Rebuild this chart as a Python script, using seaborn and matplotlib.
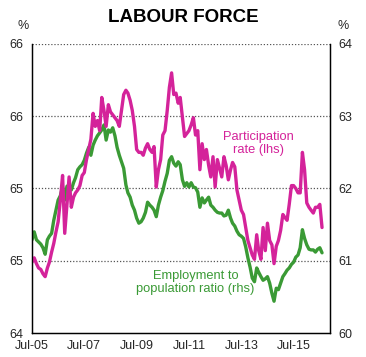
import numpy as np
import pandas as pd
import matplotlib
matplotlib.use("Agg")
import matplotlib.pyplot as plt
import matplotlib.dates as mdates
from matplotlib.ticker import FuncFormatter
import seaborn as sns

# ===============================
# data (monthly, Jul-05 to Aug-16)
# ===============================

months = pd.date_range("2005-07-01", periods=134, freq="MS")

participation = [
    64.49, 64.52, 64.48, 64.45, 64.44, 64.41, 64.39, 64.45, 64.49, 64.56,
    64.62, 64.70, 64.77, 64.92, 65.09, 64.69, 64.89, 65.08, 64.87, 64.94,
    64.97, 64.99, 65.02, 65.09, 65.11, 65.20, 65.27, 65.34, 65.52, 65.43,
    65.47, 65.40, 65.63, 65.54, 65.43, 65.58, 65.53, 65.51, 65.49, 65.47,
    65.43, 65.54, 65.65, 65.68, 65.66, 65.61, 65.54, 65.43, 65.27, 65.25,
    65.25, 65.23, 65.28, 65.31, 65.27, 65.25, 65.29, 65.01, 65.13, 65.20,
    65.37, 65.40, 65.54, 65.70, 65.80, 65.65, 65.66, 65.59, 65.63, 65.49,
    65.36, 65.38, 65.40, 65.44, 65.49, 65.37, 65.40, 65.13, 65.31, 65.20,
    65.27, 65.16, 65.08, 65.22, 65.01, 65.20, 65.14, 65.08, 65.22, 65.16,
    65.06, 65.13, 65.18, 65.15, 64.99, 64.92, 64.85, 64.82, 64.73, 64.64,
    64.59, 64.54, 64.51, 64.68, 64.57, 64.51, 64.73, 64.57, 64.76, 64.64,
    64.61, 64.48, 64.60, 64.64, 64.71, 64.82, 64.80, 64.78, 64.89, 65.02,
    65.02, 65.00, 64.97, 64.97, 65.25, 65.13, 64.90, 64.87, 64.85, 64.83,
    64.87, 64.87, 64.89, 64.73,
]

employment_ratio = [
    61.29, 61.40, 61.29, 61.26, 61.23, 61.18, 61.09, 61.29, 61.34, 61.38,
    61.56, 61.70, 61.84, 61.90, 62.02, 61.84, 62.03, 62.05, 61.98, 62.08,
    62.15, 62.26, 62.30, 62.33, 62.39, 62.49, 62.57, 62.46, 62.60, 62.67,
    62.73, 62.77, 62.81, 62.88, 62.67, 62.81, 62.78, 62.84, 62.73, 62.57,
    62.46, 62.37, 62.28, 62.05, 61.94, 61.88, 61.77, 61.70, 61.59, 61.52,
    61.54, 61.59, 61.67, 61.81, 61.77, 61.74, 61.70, 61.61, 61.77, 61.88,
    61.97, 62.10, 62.21, 62.39, 62.44, 62.35, 62.31, 62.37, 62.33, 62.12,
    62.03, 62.08, 62.02, 62.08, 62.02, 62.01, 61.95, 61.74, 61.87, 61.80,
    61.84, 61.88, 61.77, 61.74, 61.70, 61.67, 61.66, 61.66, 61.62, 61.63,
    61.70, 61.59, 61.52, 61.48, 61.41, 61.36, 61.34, 61.31, 61.19, 61.04,
    60.91, 60.76, 60.71, 60.90, 60.84, 60.78, 60.73, 60.75, 60.78, 60.69,
    60.55, 60.44, 60.62, 60.60, 60.69, 60.78, 60.82, 60.87, 60.90, 60.95,
    60.98, 61.05, 61.08, 61.18, 61.43, 61.31, 61.22, 61.16, 61.15, 61.15,
    61.12, 61.16, 61.18, 61.11,
]

x_ticks = pd.date_range("2005-07-01", "2015-07-01", freq="24MS")

pink = "#D4239A"
green = "#3A9A35"

# ===============================
# figure
# ===============================

sns.set_style("white")
plt.rcParams["font.family"] = ["Liberation Sans", "DejaVu Sans"]

fig = plt.figure(figsize=(3.66, 3.57), dpi=100)
ax = fig.add_axes([0.0874, 0.0672, 0.8142, 0.8096])
ax2 = ax.twinx()

# pink drawn above green, grid stays at the back
ax.set_zorder(ax2.get_zorder() + 1)
ax.patch.set_visible(False)

sns.lineplot(x=months, y=employment_ratio, ax=ax2, color=green, linewidth=2.4)
sns.lineplot(x=months, y=participation, ax=ax, color=pink, linewidth=2.4)

ax.set_ylim(64, 66)
ax2.set_ylim(60, 64)
ax.set_yticks([64, 64.5, 65, 65.5, 66])
ax2.set_yticks([60, 61, 62, 63, 64])

# labels rounded half up to whole numbers, as in the original
ax.yaxis.set_major_formatter(FuncFormatter(lambda v, p: f"{int(np.floor(v + 0.5))}"))
ax2.yaxis.set_major_formatter(FuncFormatter(lambda v, p: f"{int(round(v))}"))

ax.set_xlim(pd.Timestamp("2005-07-01"), pd.Timestamp("2016-11-20"))
ax.set_xticks(x_ticks)
ax.xaxis.set_major_formatter(mdates.DateFormatter("%b-%y"))

for a in (ax, ax2):
    a.set_xlabel("")
    a.set_ylabel("")
    a.spines["top"].set_visible(False)
    for s in ("left", "right", "bottom"):
        a.spines[s].set_color("black")
        a.spines[s].set_linewidth(0.9)

ax.tick_params(axis="y", length=0, labelsize=9, pad=6)
ax2.tick_params(axis="y", length=0, labelsize=9, pad=6)
ax.tick_params(axis="x", direction="in", length=3, width=0.8, labelsize=9, pad=5)

for v in [61, 62, 63, 64]:
    ax2.axhline(v, color="#555555", linestyle=(0, (1, 1.5)), linewidth=0.9, zorder=0)

fig.text(0.5, 0.952, "LABOUR FORCE", ha="center", va="center",
         fontsize=13.5, fontweight="bold", color="black")
fig.text(0.063, 0.928, "%", ha="center", va="center", fontsize=9)
fig.text(0.937, 0.928, "%", ha="center", va="center", fontsize=9)

ax.text(pd.Timestamp("2014-03-01"), 65.31, "Participation\nrate (lhs)",
        color=pink, fontsize=9.3, ha="center", va="center", linespacing=1.15)
ax.text(pd.Timestamp("2011-10-01"), 64.35, "Employment to\npopulation ratio (rhs)",
        color=green, fontsize=9.3, ha="center", va="center", linespacing=1.15)

fig.savefig("out.png", dpi=100)
